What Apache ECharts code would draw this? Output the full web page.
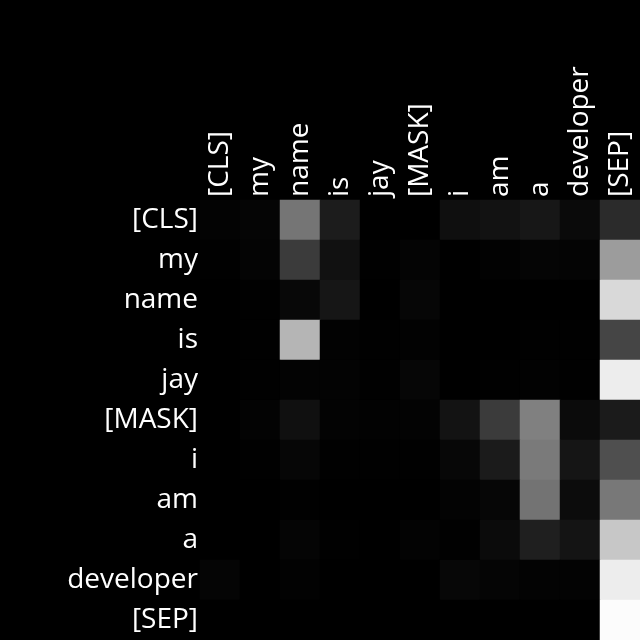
<!DOCTYPE html>
<html>
<head>
<meta charset="utf-8">
<title>Attention</title>
<script src="https://cdn.jsdelivr.net/npm/echarts@6/dist/echarts.min.js"></script>
<style>
  html, body { margin: 0; padding: 0; background: #000; }
  #chart { width: 640px; height: 640px; }
</style>
</head>
<body>
<div id="chart"></div>
<script>
// tokens, same order on both axes
const tokens = ["[CLS]", "my", "name", "is", "jay", "[MASK]", "i", "am", "a", "developer", "[SEP]"];

// attention weights, one row per query token
const rowCls = [0.01, 0.02, 0.46, 0.11, 0, 0, 0.06, 0.07, 0.09, 0.04, 0.17];
const rowMy = [0.004, 0.016, 0.23, 0.067, 0.004, 0.016, 0, 0.008, 0.02, 0.016, 0.61];
const rowName = [0, 0.004, 0.03, 0.086, 0, 0.024, 0, 0, 0, 0, 0.85];
const rowIs = [0, 0.004, 0.71, 0.008, 0.004, 0.008, 0, 0, 0.004, 0.004, 0.27];
const rowJay = [0, 0.004, 0.012, 0.012, 0.004, 0.024, 0, 0.004, 0.008, 0.004, 0.93];
const rowMask = [0, 0.012, 0.063, 0.012, 0.008, 0.012, 0.075, 0.23, 0.5, 0.043, 0.106];
const rowI = [0, 0.004, 0.024, 0.004, 0.004, 0.004, 0.027, 0.106, 0.48, 0.082, 0.31];
const rowAm = [0, 0, 0.004, 0, 0, 0, 0.012, 0.024, 0.45, 0.047, 0.47];
const rowA = [0, 0, 0.02, 0.004, 0, 0.012, 0.004, 0.043, 0.12, 0.078, 0.78];
const rowDeveloper = [0.02, 0, 0.008, 0, 0, 0, 0.027, 0.02, 0.012, 0.012, 0.93];
const rowSep = [0, 0, 0, 0, 0, 0, 0, 0, 0, 0, 0.99];

const rows = [rowCls, rowMy, rowName, rowIs, rowJay, rowMask, rowI, rowAm, rowA, rowDeveloper, rowSep];

const data = [];
rows.forEach((row, y) => {
  row.forEach((v, x) => data.push([x, y, v]));
});

const labelFont = { color: "#fff", fontSize: 28, fontFamily: "Open Sans" };

const mc = echarts.init(document.getElementById("chart"));
mc.setOption({
  backgroundColor: "#000",
  animation: false,
  grid: { left: 200, top: 200, width: 440, height: 440 },
  xAxis: {
    type: "category",
    position: "top",
    data: tokens,
    axisLine: { show: false },
    axisTick: { show: false },
    splitLine: { show: false },
    axisLabel: Object.assign({ rotate: -90, margin: 3, interval: 0 }, labelFont),
  },
  yAxis: {
    type: "category",
    inverse: true,
    data: tokens,
    axisLine: { show: false },
    axisTick: { show: false },
    splitLine: { show: false },
    axisLabel: Object.assign({ margin: 2, interval: 0 }, labelFont),
  },
  visualMap: {
    show: false,
    min: 0,
    max: 1,
    inRange: { color: ["#000000", "#ffffff"] },
  },
  series: [
    {
      type: "heatmap",
      data: data,
      itemStyle: { borderWidth: 0 },
      emphasis: { disabled: true },
    },
  ],
});
</script>
</body>
</html>
